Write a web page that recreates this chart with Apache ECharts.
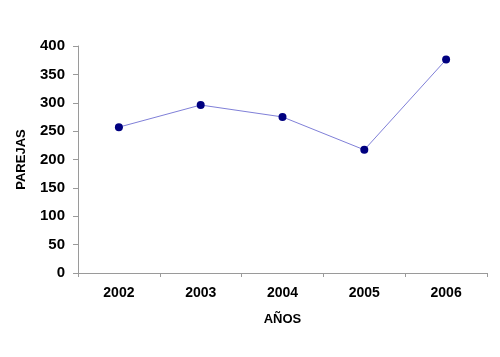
<!DOCTYPE html>
<html>
<head>
<meta charset="utf-8">
<script src="https://cdn.jsdelivr.net/npm/echarts@6/dist/echarts.min.js"></script>
<style>html,body{margin:0;padding:0;background:#fff}#c{width:500px;height:357px}</style>
</head>
<body>
<div id="c"></div>
<script>
var categories = ['2002', '2003', '2004', '2005', '2006'];
var parejas = [257, 296, 275, 217, 376];
var yTicks = [0, 50, 100, 150, 200, 250, 300, 350, 400];

var chart = echarts.init(document.getElementById('c'), null, {renderer: 'canvas'});
chart.setOption({
  animation: false,
  backgroundColor: '#ffffff',
  grid: {left: 78, right: 13, top: 46, bottom: 84, containLabel: false},
  xAxis: {
    type: 'category',
    data: categories,
    boundaryGap: true,
    name: 'AÑOS',
    nameLocation: 'middle',
    nameGap: 40,
    nameTextStyle: {fontFamily: 'Liberation Sans', fontWeight: 'bold', fontSize: 13, color: '#000'},
    axisLine: {lineStyle: {color: '#9a9a9a', width: 1}},
    axisTick: {show: true, length: 4, lineStyle: {color: '#9a9a9a'}},
    axisLabel: {fontFamily: 'Liberation Sans', fontWeight: 'bold', fontSize: 14, color: '#000', margin: 13},
    splitLine: {show: false}
  },
  yAxis: {
    type: 'value',
    min: yTicks[0],
    max: yTicks[yTicks.length - 1],
    interval: 50,
    name: 'PAREJAS',
    nameLocation: 'middle',
    nameGap: 50,
    nameTextStyle: {fontFamily: 'Liberation Sans', fontWeight: 'bold', fontSize: 13, color: '#000'},
    axisLine: {show: true, lineStyle: {color: '#9a9a9a', width: 1}},
    axisTick: {show: true, length: 5, lineStyle: {color: '#9a9a9a'}},
    axisLabel: {fontFamily: 'Liberation Sans', fontWeight: 'bold', fontSize: 15, color: '#000', margin: 13},
    splitLine: {show: false}
  },
  series: [{
    type: 'line',
    data: parejas,
    symbol: 'circle',
    symbolSize: 8,
    itemStyle: {color: '#000080'},
    lineStyle: {color: '#8080d8', width: 1}
  }]
});
</script>
</body>
</html>
